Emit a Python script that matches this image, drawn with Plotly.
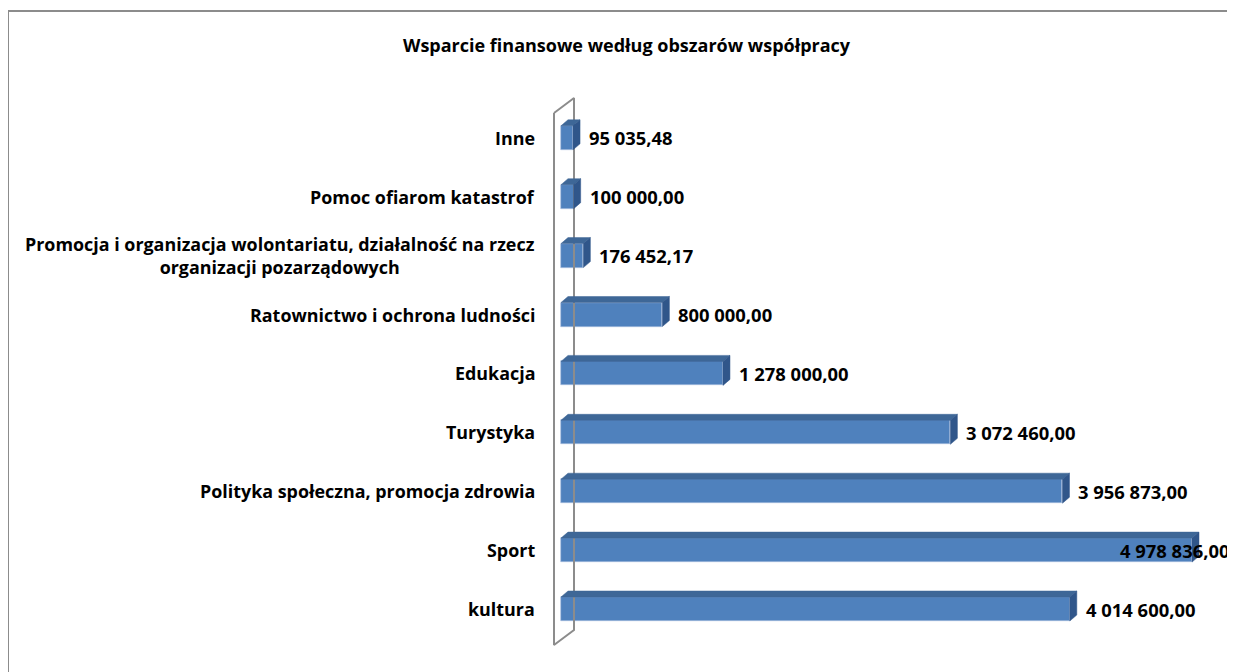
import plotly.graph_objects as go

# data (bottom to top, as drawn)
categories = [
    "kultura",
    "Sport",
    "Polityka społeczna, promocja zdrowia",
    "Turystyka",
    "Edukacja",
    "Ratownictwo i ochrona ludności",
    "Promocja i organizacja wolontariatu, działalność na rzecz<br>organizacji pozarządowych",
    "Pomoc ofiarom katastrof",
    "Inne",
]
amounts = [4014600.00, 4978836.00, 3956873.00, 3072460.00, 1278000.00,
           800000.00, 176452.17, 100000.00, 95035.48]

title = "Wsparcie finansowe według obszarów współpracy"

OFF = 8  # the page body margin shifts the figure by this much
W, H = 1235 - OFF, 672 - OFF
FONT = "Open Sans"
FRONT, TOP, SIDE = "#4F81BD", "#3E6797", "#30568A"

# plot area in screen pixels, and the scales that follow from it
pl, pr, pt, pb = 540, 1235, 90, 650
zero_px = 561
px_per_val = 631 / max(amounts)
x_min = -(zero_px - pl) / px_per_val
x_max = x_min + (pr - pl) / px_per_val
px_per_cat = 58.9
y_min = -41 / px_per_cat
y_max = y_min + (pb - pt) / px_per_cat


def px2x(px):
    return x_min + (px - pl) / px_per_val


def px2y(py):
    return y_min + (pb - py) / px_per_cat


def fmt(v):
    return f"{v:,.2f}".replace(",", " ").replace(".", ",")


dx = 7 / px_per_val      # bar depth to the right
dy = 6 / px_per_cat      # bar depth upwards
bw = 24 / px_per_cat     # bar thickness

ys = list(range(len(categories)))
fig = go.Figure()

# floor / wall of the 3d plot
wall_x = [px2x(554), px2x(574), px2x(574), px2x(554), px2x(554)]
wall_y = [px2y(113), px2y(98), px2y(630), px2y(645), px2y(113)]
fig.add_trace(go.Scatter(x=wall_x, y=wall_y, mode="lines",
                         line=dict(color="#8C8C8C", width=2),
                         hoverinfo="skip", showlegend=False))

# front faces
fig.add_trace(go.Bar(x=amounts, y=ys, orientation="h", width=bw,
                     marker=dict(color=FRONT, line=dict(color="#A9C0E0", width=0.6)),
                     showlegend=False))

# top and side faces for the 3d look
for y, v in zip(ys, amounts):
    t = y + bw / 2
    b = y - bw / 2
    fig.add_trace(go.Scatter(x=[0, v, v + dx, dx, 0], y=[t, t, t + dy, t + dy, t],
                             fill="toself", fillcolor=TOP, mode="lines",
                             line=dict(color=TOP, width=0.5),
                             hoverinfo="skip", showlegend=False))
    fig.add_trace(go.Scatter(x=[v, v + dx, v + dx, v, v], y=[b, b + dy, t + dy, t, b],
                             fill="toself", fillcolor=SIDE, mode="lines",
                             line=dict(color=SIDE, width=0.5),
                             hoverinfo="skip", showlegend=False))

label_font = dict(family=FONT, size=17.9, color="black", weight="bold")
annotations = []
for y, name, v in zip(ys, categories, amounts):
    annotations.append(dict(x=0, y=y, xref="x", yref="y", text=name,
                            xanchor="right", align="center", xshift=-24,
                            showarrow=False, font=label_font))
    label = fmt(v)
    end_px = zero_px + v * px_per_val
    # a label that would run off the chart is pulled back over its bar
    start_px = min(end_px + 14, 1235 - 117)
    annotations.append(dict(x=px2x(start_px), y=y, xref="x", yref="y", text=label,
                            xanchor="left", showarrow=False,
                            font=dict(family=FONT, size=18.4, color="black", weight="bold")))

pw, ph = pr - pl, pb - pt
annotations.append(dict(x=(627 - pl) / pw, y=(pb - 45) / ph, xref="paper", yref="paper",
                        text=title, xanchor="center", yanchor="middle", showarrow=False,
                        font=dict(family=FONT, size=18, color="black", weight="bold")))

# outer chart frame (runs off the right and bottom edges)
shapes = [dict(type="rect", xref="paper", yref="paper",
               x0=(8 - pl) / pw, x1=(1235 + 20 - pl) / pw,
               y0=(pb - (672 + 20)) / ph, y1=(pb - 11) / ph,
               line=dict(color="#8C8C8C", width=2), fillcolor="rgba(0,0,0,0)", layer="below")]

fig.update_layout(
    width=W, height=H,
    margin=dict(l=pl - OFF, r=1235 - pr, t=pt - OFF, b=672 - pb),
    paper_bgcolor="white", plot_bgcolor="white",
    xaxis=dict(range=[x_min, x_max], visible=False),
    yaxis=dict(range=[y_min, y_max], visible=False),
    annotations=annotations, shapes=shapes,
    bargap=0,
)
fig.write_html("out.html")
